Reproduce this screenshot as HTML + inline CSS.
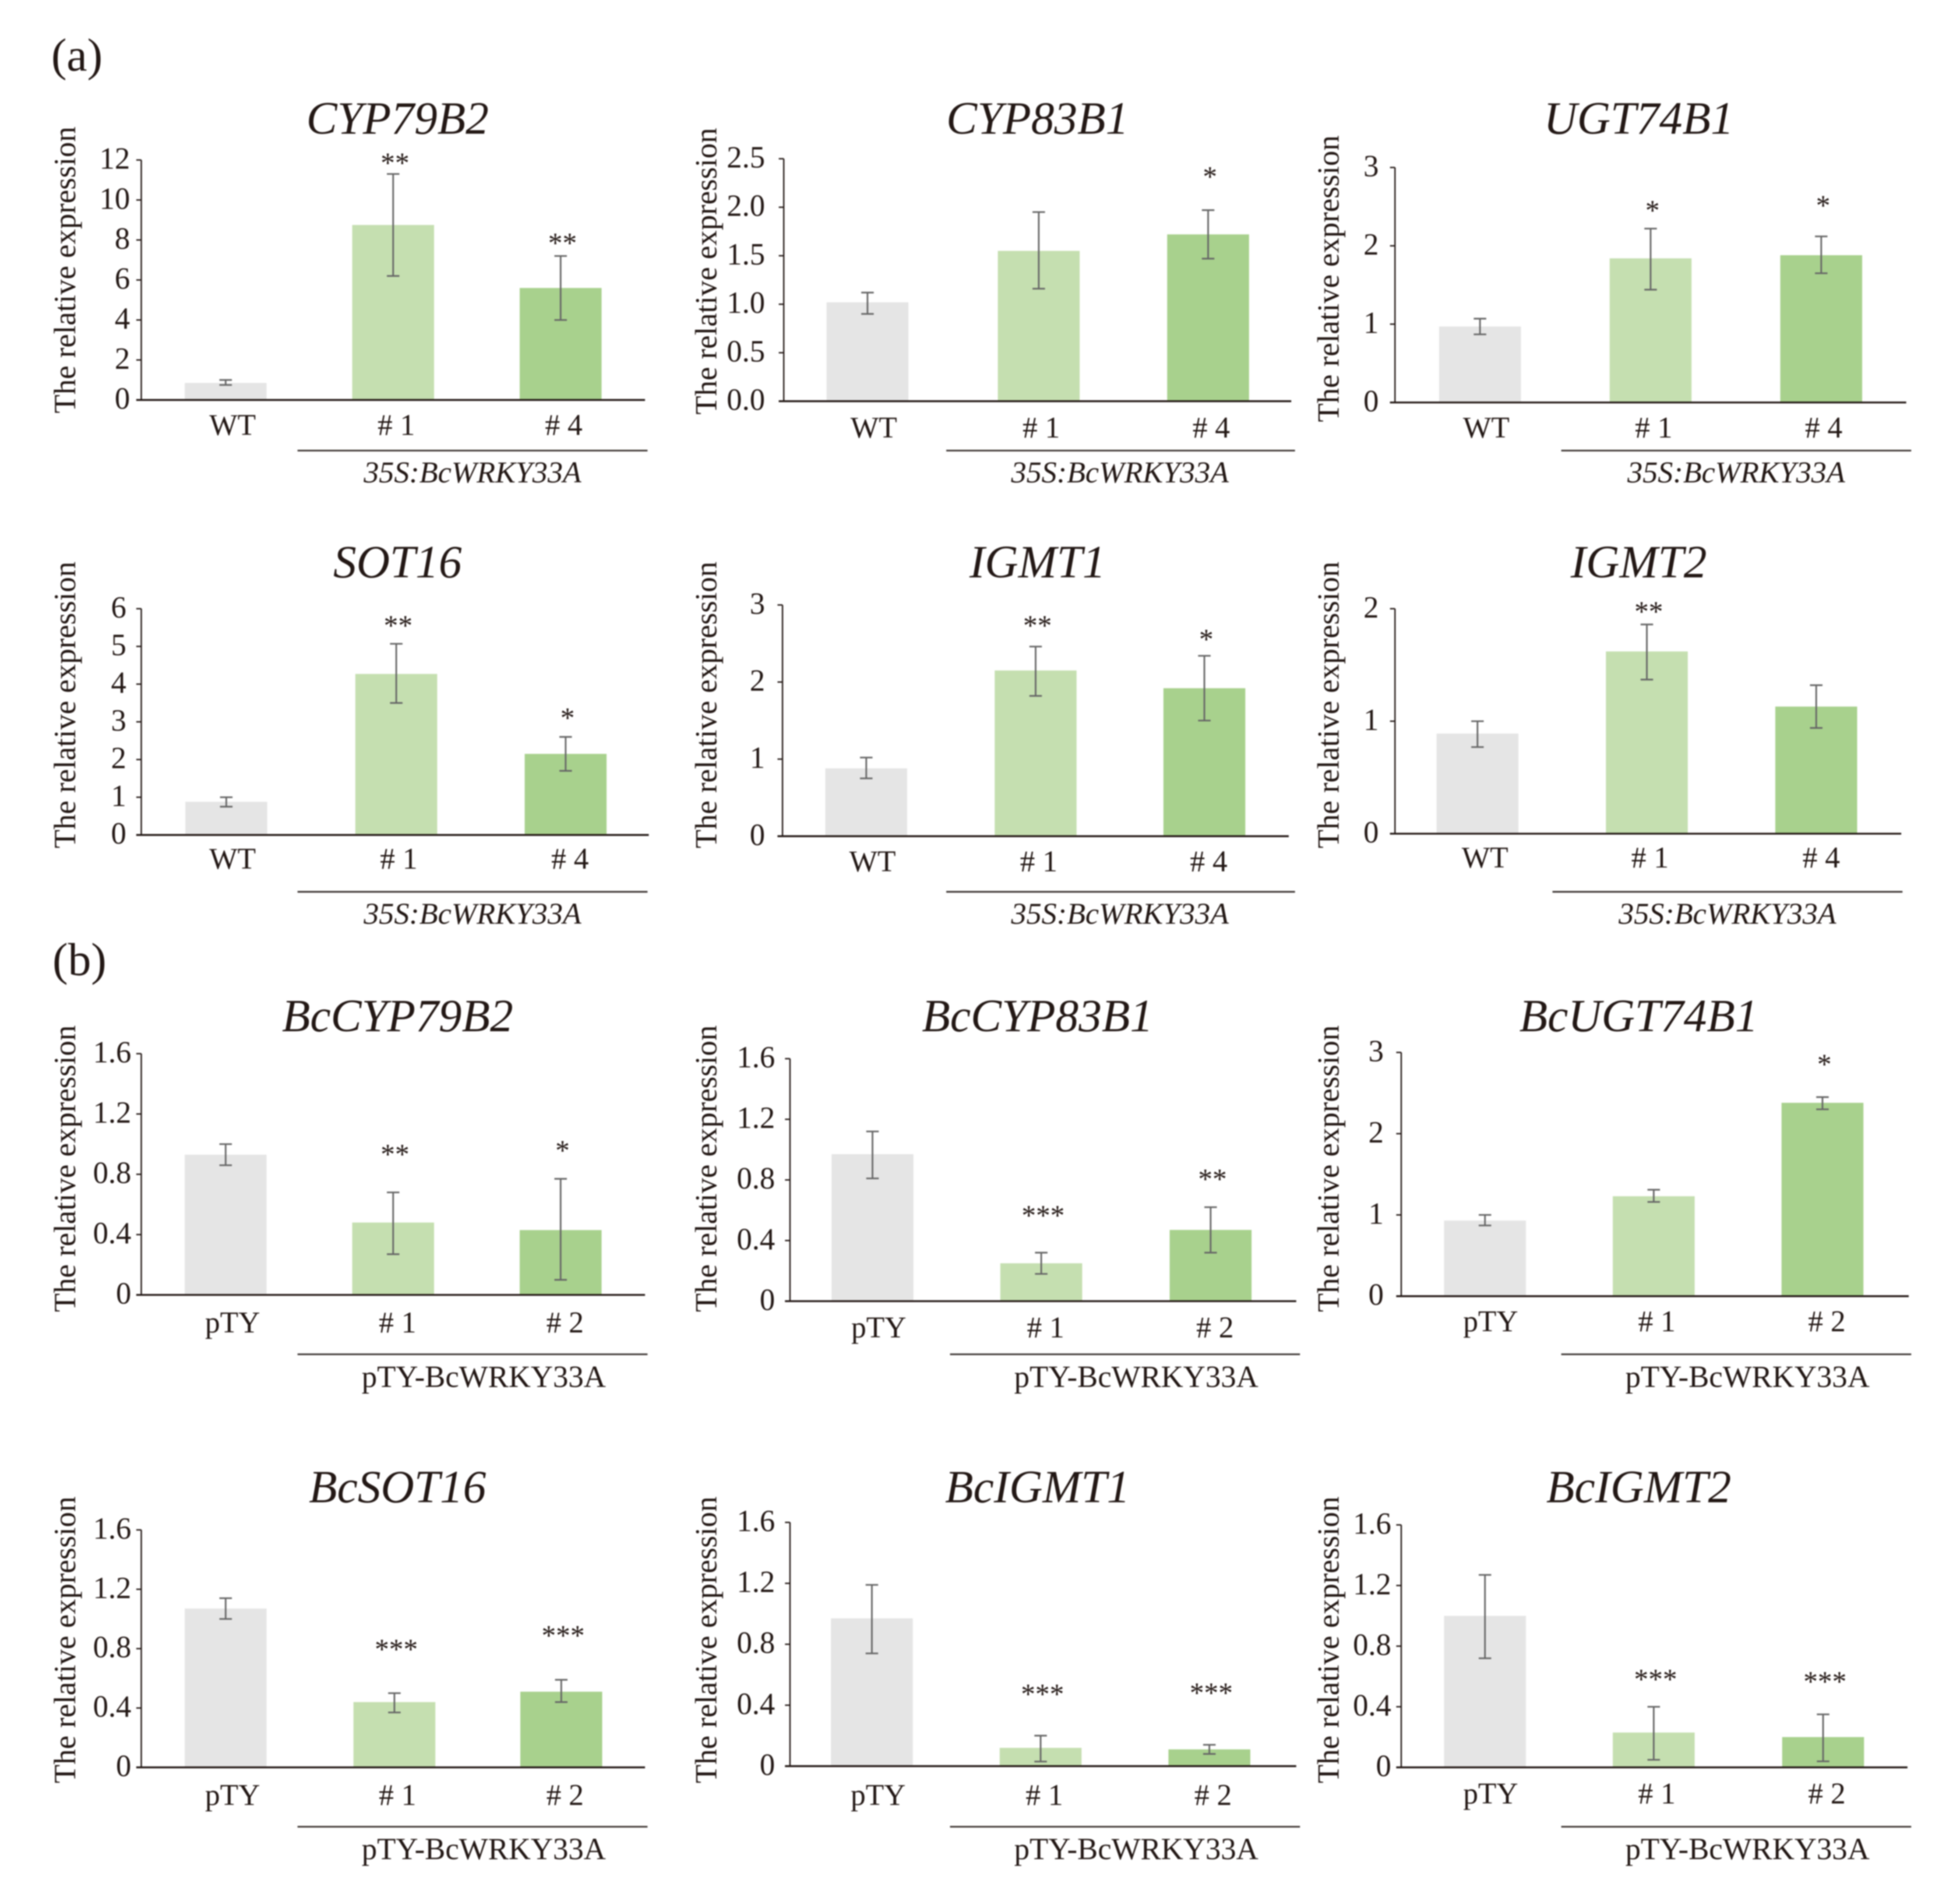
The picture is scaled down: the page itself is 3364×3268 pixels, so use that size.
<!DOCTYPE html>
<html lang="en">
<head>
<meta charset="utf-8">
<title>Relative expression bar charts</title>
<style>
html,body{margin:0;padding:0;background:#fff;width:3364px;height:3268px;overflow:hidden}
svg{display:block;filter:blur(1.1px)}
text{font-family:"Liberation Serif",serif;fill:#231815}
</style>
</head>
<body>
<svg id="figure" xmlns="http://www.w3.org/2000/svg" width="3364" height="3268" viewBox="0 0 1568 1523.3">
  <text x="41" y="56.5" font-size="37">(a)</text>
  <text x="42" y="780" font-size="37">(b)</text>
</svg>
<script>
// ---------- chart data ----------
const titles = ["CYP79B2","CYP83B1","UGT74B1","SOT16","IGMT1","IGMT2","BcCYP79B2","BcCYP83B1","BcUGT74B1","BcSOT16","BcIGMT1","BcIGMT2"];
const categoriesA = ["WT","# 1","# 4"];
const categoriesB = ["pTY","# 1","# 2"];
const groupLabelA = "35S:BcWRKY33A";
const groupLabelB = "pTY-BcWRKY33A";
const yAxisTitle = "The relative expression";
const yTickLabels = [
  ["0","2","4","6","8","10","12"],
  ["0.0","0.5","1.0","1.5","2.0","2.5"],
  ["0","1","2","3"],
  ["0","1","2","3","4","5","6"],
  ["0","1","2","3"],
  ["0","1","2"],
  ["0","0.4","0.8","1.2","1.6"],
  ["0","0.4","0.8","1.2","1.6"],
  ["0","1","2","3"],
  ["0","0.4","0.8","1.2","1.6"],
  ["0","0.4","0.8","1.2","1.6"],
  ["0","0.4","0.8","1.2","1.6"]
];
const seriesValues = [
  [0.85,8.75,5.6],[1.02,1.55,1.72],[0.97,1.84,1.88],
  [0.88,4.27,2.15],[0.88,2.15,1.92],[0.89,1.62,1.13],
  [0.93,0.48,0.43],[0.97,0.25,0.47],[0.93,1.23,2.38],
  [1.07,0.44,0.51],[0.97,0.12,0.11],[1.0,0.23,0.2]
];
const errorLow = [
  [0.75,6.2,4.0],[0.9,1.16,1.47],[0.87,1.44,1.65],
  [0.75,3.5,1.7],[0.75,1.82,1.5],[0.77,1.37,0.94],
  [0.86,0.27,0.1],[0.81,0.18,0.32],[0.87,1.16,2.3],
  [1.0,0.37,0.44],[0.74,0.03,0.08],[0.72,0.05,0.04]
];
const errorHigh = [
  [1.0,11.3,7.2],[1.12,1.95,1.97],[1.07,2.22,2.12],
  [1.0,5.07,2.6],[1.02,2.46,2.34],[1.0,1.86,1.32],
  [1.0,0.68,0.77],[1.12,0.32,0.62],[1.0,1.31,2.45],
  [1.14,0.5,0.59],[1.19,0.2,0.14],[1.27,0.4,0.35]
];
const significance = [
  ["","**","**"],["","","*"],["","*","*"],
  ["","**","*"],["","**","*"],["","**",""],
  ["","**","*"],["","***","**"],["","","*"],
  ["","***","***"],["","***","***"],["","***","***"]
];
// ---------- layout (pixels in the figure's coordinate system) ----------
const layout = [
  {x0:113,x1:516,top:128,base:320,gap:9,centers:[180.5,314.5,448.5],labelX:[186,317,451],labelY:340,starY:[0,128,192],titleX:318,titleY:107,axisTitleX:52,axisTitleY:216,lineY:360.5,lineA:238,lineB:518,groupX:378,groupY:378},
  {x0:627,x1:1033,top:127,base:321,gap:15,centers:[694,831,966.5],labelX:[699,833,969],labelY:342,starY:[0,0,139],titleX:830,titleY:107,axisTitleX:565,axisTitleY:217,lineY:360.5,lineA:757,lineB:1036,groupX:896,groupY:378},
  {x0:1116,x1:1525,top:134,base:322,gap:13,centers:[1184,1320.5,1457],labelX:[1189,1323,1459],labelY:342,starY:[0,166,162],titleX:1311,titleY:107,axisTitleX:1063,axisTitleY:223,lineY:360.5,lineA:1249,lineB:1529,groupX:1389,groupY:378},
  {x0:113,x1:519,top:487,base:668,gap:12,centers:[181,317,452.5],labelX:[186,319,456],labelY:687,starY:[0,498,572],titleX:318,titleY:462,axisTitleX:52,axisTitleY:564,lineY:713.5,lineA:238,lineB:518,groupX:378,groupY:731},
  {x0:626,x1:1031,top:484,base:669,gap:14,centers:[693,828.5,963.5],labelX:[698,831,967],labelY:689,starY:[0,498,509],titleX:830,titleY:462,axisTitleX:565,axisTitleY:564,lineY:713.5,lineA:757,lineB:1036,groupX:896,groupY:731},
  {x0:1116,x1:1521,top:487,base:667,gap:13,centers:[1182,1317.5,1453],labelX:[1188,1320,1457],labelY:686,starY:[0,487,0],titleX:1311,titleY:462,axisTitleX:1063,axisTitleY:564,lineY:713.5,lineA:1242,lineB:1522,groupX:1382,groupY:731},
  {x0:113,x1:516,top:843,base:1036,gap:8,centers:[180.5,314.5,448.5],labelX:[186,318,452],labelY:1058,starY:[0,921,918],titleX:318,titleY:825,axisTitleX:52,axisTitleY:935,lineY:1083.5,lineA:238,lineB:518,groupX:387,groupY:1101.5},
  {x0:632,x1:1037,top:847,base:1041,gap:12,centers:[698,833,968.5],labelX:[703,836.5,972],labelY:1062,starY:[0,970,941],titleX:830,titleY:825,axisTitleX:565,axisTitleY:935,lineY:1083.5,lineA:760,lineB:1040,groupX:909,groupY:1101.5},
  {x0:1121,x1:1527,top:842,base:1037,gap:14,centers:[1188,1323,1458],labelX:[1192.5,1325.5,1461.5],labelY:1057,starY:[0,0,849],titleX:1311,titleY:825,axisTitleX:1063,axisTitleY:935,lineY:1083.5,lineA:1249,lineB:1529,groupX:1398,groupY:1101.5},
  {x0:113,x1:516,top:1224,base:1414,gap:8,centers:[180.5,315.5,449],labelX:[186,318,452],labelY:1436,starY:[0,1317,1306],titleX:318,titleY:1202,axisTitleX:52,axisTitleY:1312,lineY:1461.5,lineA:238,lineB:518,groupX:387,groupY:1479.5},
  {x0:632,x1:1037,top:1218,base:1413,gap:12,centers:[697.5,832.5,967.5],labelX:[702.5,835.5,970.5],labelY:1436,starY:[0,1353,1352],titleX:830,titleY:1202,axisTitleX:565,axisTitleY:1312,lineY:1461.5,lineA:760,lineB:1040,groupX:909,groupY:1479.5},
  {x0:1121,x1:1526,top:1220,base:1414,gap:8,centers:[1188,1323,1458.5],labelX:[1192.5,1325.5,1461.5],labelY:1435,starY:[0,1341,1343],titleX:1311,titleY:1202,axisTitleX:1063,axisTitleY:1312,lineY:1461.5,lineA:1249,lineB:1529,groupX:1398,groupY:1479.5}
];
const barColors = ["#e5e5e5","#c5dfb0","#a8d18d"];
const barWidth = 65.5;
const capHalf = 5;
const NS = "http://www.w3.org/2000/svg";
const figure = document.getElementById("figure");

function make(parent, tag, props, text) {
  const el = document.createElementNS(NS, tag);
  for (const k in props) el.setAttribute(k, props[k]);
  if (text !== undefined) el.textContent = text;
  parent.appendChild(el);
  return el;
}

function yScale(p, ticks) {
  const maxValue = parseFloat(ticks[ticks.length - 1]);
  return function (v) { return p.base - (v / maxValue) * (p.base - p.top); };
}

titles.forEach(function (title, i) {
  const p = layout[i];
  const ticks = yTickLabels[i];
  const y = yScale(p, ticks);
  const isB = i >= 6;
  const categories = isB ? categoriesB : categoriesA;

  const g = make(figure, "g", {});
  
  

  const titleEl = make(g, "text", {x:p.titleX, y:p.titleY, "font-size":37, "font-style":"italic", "text-anchor":"middle"}, title);
  
  

  const axisTitle = make(g, "text", {transform:"translate(" + (p.axisTitleX + 8) + " " + p.axisTitleY + ") rotate(-90)", "font-size":24.6, "text-anchor":"middle", fill:"#3a3330"}, yAxisTitle);
  
  

  seriesValues[i].forEach(function (v, j) {
    const cx = p.centers[j];
    const bar = make(g, "rect", {x:cx - barWidth / 2, y:y(v), width:barWidth, height:p.base - y(v), fill:barColors[j]});
    
    

    const yLow = y(errorLow[i][j]);
    const yHigh = y(errorHigh[i][j]);
    const err = make(g, "path", {d:"M" + cx + " " + yLow + "V" + yHigh + "M" + (cx - capHalf) + " " + yLow + "H" + (cx + capHalf) + "M" + (cx - capHalf) + " " + yHigh + "H" + (cx + capHalf), fill:"none", stroke:"#666", "stroke-width":1.3});
    
    

    if (significance[i][j]) {
      const star = make(g, "text", {x:cx + 1.5, y:p.starY[j] + 10, "font-size":23, "text-anchor":"middle", fill:"#4a4a4a"}, significance[i][j]);
      
      
    }

    const cat = make(g, "text", {x:p.labelX[j], y:p.labelY + 8, "font-size":24, "text-anchor":"middle", fill:"#3a3330"}, categories[j]);
    
    
  });

  const yAxis = make(g, "line", {x1:p.x0, x2:p.x0, y1:p.top, y2:p.base, stroke:"#231815", "stroke-width":1.1});
  
  

  const xAxis = make(g, "line", {x1:p.x0 - 4, x2:p.x1, y1:p.base, y2:p.base, stroke:"#231815", "stroke-width":1.5});
  
  

  ticks.forEach(function (t) {
    const ty = y(parseFloat(t));
    const tick = make(g, "line", {x1:p.x0 - 4, x2:p.x0, y1:ty, y2:ty, stroke:"#231815", "stroke-width":1.1});
    
    

    const label = make(g, "text", {x:p.x0 - p.gap, y:ty + 7, "font-size":24.5, "text-anchor":"end", fill:"#3a3330"}, t);
    
    
  });

  const groupLine = make(g, "line", {x1:p.lineA, x2:p.lineB, y1:p.lineY, y2:p.lineY, stroke:"#3a3330", "stroke-width":1.3});
  
  

  const groupProps = {x:p.groupX, y:p.groupY + 8, "font-size":isB ? 24.6 : 24.3, "text-anchor":"middle"};
  if (!isB) groupProps["font-style"] = "italic";
  const groupText = make(g, "text", groupProps, isB ? groupLabelB : groupLabelA);
  
  
});
</script>
</body>
</html>
